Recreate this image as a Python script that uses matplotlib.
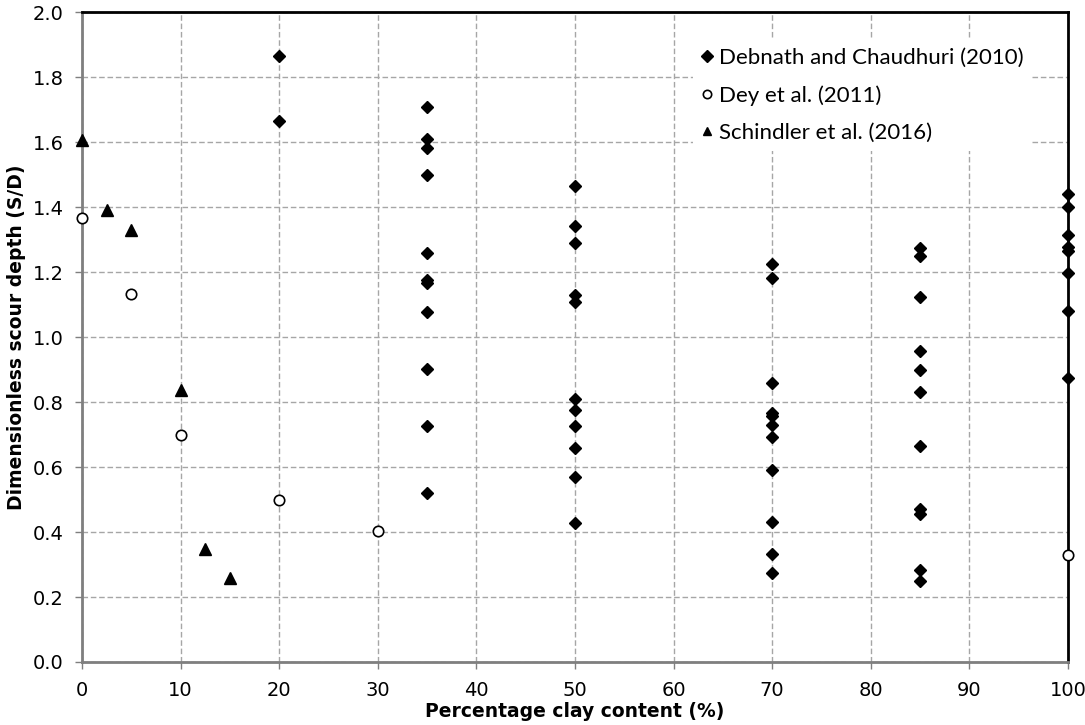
import matplotlib
matplotlib.use('Agg')
import matplotlib.pyplot as plt
import numpy as np

plt.rcParams['font.family'] = ['DejaVu Sans']

# Debnath and Chaudhuri (2010)
deb_x = [20, 20,
         35, 35, 35, 35, 35, 35, 35, 35, 35, 35, 35,
         50, 50, 50, 50, 50, 50, 50, 50, 50, 50, 50,
         70, 70, 70, 70, 70, 70, 70, 70, 70, 70, 70,
         85, 85, 85, 85, 85, 85, 85, 85, 85, 85, 85,
         100, 100, 100, 100, 100, 100, 100, 100]
deb_y = [1.866, 1.665,
         1.709, 1.608, 1.582, 1.499, 1.258, 1.175, 1.167, 1.076, 0.902, 0.726, 0.519,
         1.466, 1.342, 1.290, 1.128, 1.109, 0.809, 0.775, 0.726, 0.659, 0.568, 0.427,
         1.224, 1.182, 0.857, 0.767, 0.758, 0.730, 0.691, 0.590, 0.431, 0.331, 0.273,
         1.275, 1.248, 1.124, 0.956, 0.899, 0.831, 0.665, 0.471, 0.455, 0.282, 0.248,
         1.441, 1.400, 1.315, 1.278, 1.264, 1.198, 1.081, 0.873]

# Dey et al. (2011)
dey_x = [0, 5, 10, 20, 30, 100]
dey_y = [1.365, 1.133, 0.699, 0.498, 0.402, 0.330]

# Schindler et al. (2016)
sch_x = [0, 2.5, 5, 10, 12.5, 15]
sch_y = [1.607, 1.39, 1.328, 0.837, 0.347, 0.257]

fig = plt.figure(figsize=(10.85, 7.25), dpi=100)
ax = fig.add_axes([0.0756, 0.0869, 0.9087, 0.8965])

ax.plot(deb_x, deb_y, 'D', color='black', markersize=6.5, linestyle='none',
        label='Debnath and Chaudhuri (2010)', clip_on=False, zorder=3)
ax.plot(dey_x, dey_y, 'o', markerfacecolor='white', markeredgecolor='black',
        markeredgewidth=1.2, markersize=7.5, linestyle='none',
        label='Dey et al. (2011)', clip_on=False, zorder=3)
ax.plot(sch_x, sch_y, '^', color='black', markersize=8.5, linestyle='none',
        label='Schindler et al. (2016)', clip_on=False, zorder=3)

ax.set_xlim(0, 100)
ax.set_ylim(0, 2.0)
ax.set_xticks(np.arange(0, 101, 10))
ax.set_yticks(np.arange(0, 2.01, 0.2))
ax.set_yticklabels(['%.1f' % v for v in np.arange(0, 2.01, 0.2)])

ax.grid(True, color='#a6a6a6', linestyle=(0, (4, 2)), linewidth=1.0)
ax.set_axisbelow(True)

for side in ['top', 'right']:
    ax.spines[side].set_color('black')
    ax.spines[side].set_linewidth(2)
for side in ['left', 'bottom']:
    ax.spines[side].set_color('#7f7f7f')
    ax.spines[side].set_linewidth(2)

ax.tick_params(axis='both', direction='out', length=5, width=1, color='#7f7f7f',
               labelsize=14)
ax.tick_params(axis='x', pad=9)
ax.tick_params(axis='y', pad=8)

ax.set_xlabel('Percentage clay content (%)', fontsize=13.5, fontweight='bold', labelpad=1)
ax.set_ylabel('Dimensionless scour depth (S/D)', fontsize=13.5, fontweight='bold', labelpad=5)

leg = ax.legend(loc='upper left', bbox_to_anchor=(693 / 1085, 1 - 40 / 725),
                bbox_transform=fig.transFigure, frameon=True,
                handletextpad=0.2, handlelength=0.6, labelspacing=0.78,
                borderpad=0.35, borderaxespad=0,
                prop={'family': ['Lato', 'DejaVu Sans'], 'size': 16})
leg.get_frame().set_edgecolor('none')
leg.get_frame().set_facecolor('white')
leg.get_frame().set_alpha(1.0)
for h in leg.legend_handles:
    h.set_markersize(6)

fig.savefig('out.png', dpi=100)
